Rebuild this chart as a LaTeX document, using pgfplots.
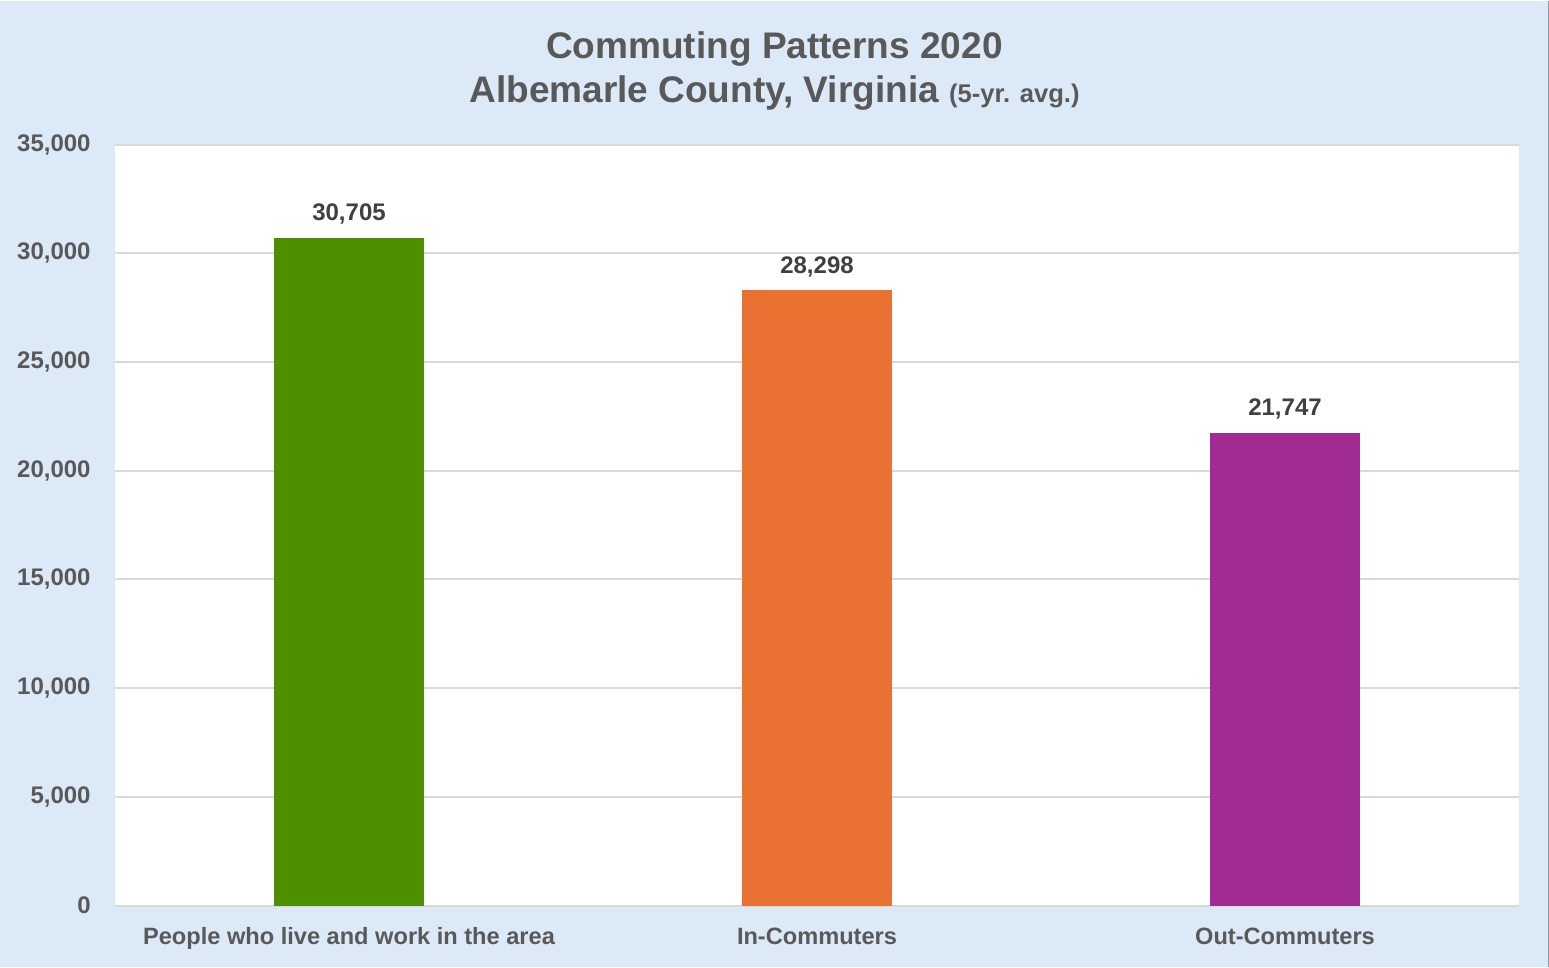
\documentclass[border=0pt]{standalone}
\usepackage{pgfplots}
\pgfplotsset{compat=1.18}
\usepackage{fontspec}
\setmainfont{Liberation Sans}
\definecolor{bg}{HTML}{DCE9F6}
\definecolor{txt}{HTML}{595959}
\definecolor{lbl}{HTML}{404040}
\definecolor{gridc}{HTML}{D9D9D9}
\definecolor{cgreen}{HTML}{4E8F00}
\definecolor{corange}{HTML}{E97132}
\definecolor{cpurple}{HTML}{A02B93}
\begin{document}
\begin{tikzpicture}
\fill[bg] (-57.5pt,-30.5pt) rectangle (717pt,452.5pt);
\draw[color=black!35!bg, line width=0.6pt] (716.7pt,-30.5pt) -- (716.7pt,452.5pt);
\begin{axis}[
  at={(0pt,0pt)}, anchor=south west,
  scale only axis,
  width=702pt, height=380.5pt,
  xmin=-0.5, xmax=2.5,
  ymin=0, ymax=35000,
  ytick={0,5000,10000,15000,20000,25000,30000,35000},
  xtick={0,1,2},
  xticklabels={People who live and work in the area, In-Commuters, Out-Commuters},
  ybar, bar width=75pt, bar shift=0pt,
  axis background/.style={fill=white},
  axis line style={draw=none},
  tick style={draw=none},
  ymajorgrids, major grid style={color=gridc, line width=1pt},
  /pgf/number format/.cd, 1000 sep={,}, assume math mode=true, /pgfplots/.cd,
  scaled y ticks=false,
  yticklabel style={font=\bfseries\fontsize{12}{14}\selectfont, color=txt, inner sep=0pt, xshift=-12pt},
  xticklabel style={font=\bfseries\fontsize{11.8}{14}\selectfont, color=txt, anchor=base, inner sep=0pt, yshift=-15pt},
  nodes near coords,
  every node near coord/.append style={font=\bfseries\fontsize{12}{14}\selectfont, color=lbl, anchor=base, inner sep=0pt, yshift=8.5pt},
]
\addplot[fill=cgreen, draw=none] coordinates {(0,30705)};
\addplot[fill=corange, draw=none] coordinates {(1,28298)};
\addplot[fill=cpurple, draw=none] coordinates {(2,21747)};
\end{axis}
\node[anchor=base, inner sep=0pt, color=txt, font=\bfseries\fontsize{18.5}{20}\selectfont] at (329.75pt,423.5pt) {Commuting Patterns 2020};
\node[anchor=base, inner sep=0pt, color=txt, font=\bfseries\fontsize{18.5}{20}\selectfont] at (329.75pt,401.5pt) {Albemarle County, Virginia {\fontsize{12.8}{14}\selectfont (5-yr. avg.)}};
\end{tikzpicture}
\end{document}
